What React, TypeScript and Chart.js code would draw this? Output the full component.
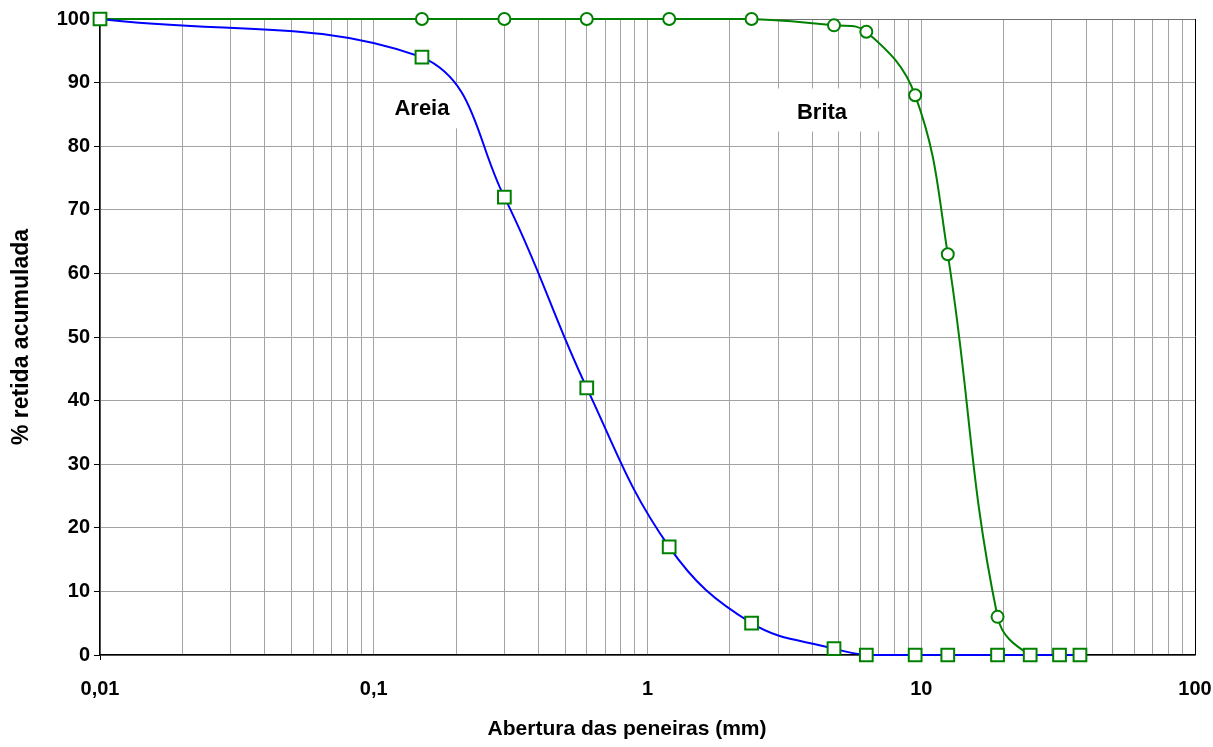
import React, { useEffect, useRef } from 'react';
import { Chart, registerables } from 'chart.js';

Chart.register(...registerables);

// ---- data ----
const AREIA_X = [0.01, 0.15, 0.3, 0.6, 1.2, 2.4, 4.8, 6.3, 9.5, 12.5, 19, 25, 32, 38];
const AREIA_Y = [100, 94, 72, 42, 17, 5, 1, 0, 0, 0, 0, 0, 0, 0];
const BRITA_X = [0.01, 0.15, 0.3, 0.6, 1.2, 2.4, 4.8, 6.3, 9.5, 12.5, 19, 25, 32];
const BRITA_Y = [100, 100, 100, 100, 100, 100, 99, 98, 88, 63, 6, 0, 0];

const X_DECADES = [0.01, 0.1, 1, 10, 100];
const X_TICK_LABELS = ['0,01', '0,1', '1', '10', '100'];
const X_MULTIPLIERS = [1, 2, 3, 4, 5, 6, 7, 8, 9];

const LABEL_TEXTS = ['Areia', 'Brita'];
const LABEL_X = [0.15, 4.34];
const LABEL_Y = [85.8, 85.3];

const X_TITLE = 'Abertura das peneiras (mm)';
const Y_TITLE = '% retida acumulada';

const FONT = "'Liberation Sans', Arial, Helvetica, sans-serif";

const xTickValues: number[] = [];
for (let d = 0; d < X_DECADES.length - 1; d++) {
  for (const m of X_MULTIPLIERS) {
    xTickValues.push(Number((m * X_DECADES[d]).toPrecision(3)));
  }
}
xTickValues.push(X_DECADES[X_DECADES.length - 1]);

const decadeIndex = (v: number) =>
  X_DECADES.findIndex((d) => Math.abs(Math.log10(d) - Math.log10(v)) < 1e-6);

// label box paddings (style)
const BOX_PAD = [
  { l: 8, r: 10, t: 24, b: 19 },
  { l: 25, r: 39, t: 24, b: 19 },
];

const labelPlugin = {
  id: 'textLabels',
  beforeDatasetsDraw(chart: any) {
    const ctx = chart.ctx;
    const xs = chart.scales.x;
    const ys = chart.scales.y;
    ctx.save();
    ctx.font = `bold 22px ${FONT}`;
    ctx.textAlign = 'center';
    ctx.textBaseline = 'middle';
    LABEL_TEXTS.forEach((t, i) => {
      const cx = xs.getPixelForValue(LABEL_X[i]);
      const cy = ys.getPixelForValue(LABEL_Y[i]);
      const w = ctx.measureText(t).width;
      const p = BOX_PAD[i];
      ctx.fillStyle = '#ffffff';
      ctx.fillRect(cx - w / 2 - p.l, cy - p.t, w + p.l + p.r, p.t + p.b);
      ctx.fillStyle = '#000000';
      ctx.fillText(t, cx, cy);
    });
    ctx.restore();
  },
};

export default function App() {
  const ref = useRef<HTMLCanvasElement | null>(null);

  useEffect(() => {
    if (!ref.current) return;
    const chart = new Chart(ref.current, {
      type: 'line',
      data: {
        datasets: [
          {
            label: 'Areia',
            data: AREIA_X.map((x, i) => ({ x, y: AREIA_Y[i] })),
            borderColor: '#0000ff',
            borderWidth: 2,
            pointStyle: 'rect',
            pointRadius: 9,
            pointBorderWidth: 2,
            pointBorderColor: '#008000',
            pointBackgroundColor: '#ffffff',
            tension: 0.4,
            fill: false,
            clip: false,
          },
          {
            label: 'Brita',
            data: BRITA_X.map((x, i) => ({ x, y: BRITA_Y[i] })),
            borderColor: '#008000',
            borderWidth: 2,
            pointStyle: 'circle',
            pointRadius: 6,
            pointBorderWidth: 2,
            pointBorderColor: '#008000',
            pointBackgroundColor: '#ffffff',
            tension: 0.4,
            fill: false,
            clip: false,
          },
        ],
      },
      options: {
        animation: false,
        responsive: true,
        maintainAspectRatio: false,
        layout: { padding: { top: 19, right: 18, left: 0, bottom: 0 } },
        plugins: {
          legend: { display: false },
          tooltip: { enabled: false },
        },
        scales: {
          x: {
            type: 'logarithmic',
            min: 0.01,
            max: 100,
            afterBuildTicks: (scale: any) => {
              scale.ticks = xTickValues.map((v) => ({ value: v }));
            },
            afterFit: (scale: any) => {
              scale.height = 92;
              scale.paddingLeft = 0;
              scale.paddingRight = 0;
            },
            ticks: {
              autoSkip: false,
              maxRotation: 0,
              minRotation: 0,
              padding: 17,
              color: '#000',
              font: { family: FONT, size: 20, weight: 'bold' },
              callback: (value: any) => {
                const i = decadeIndex(Number(value));
                return i >= 0 ? X_TICK_LABELS[i] : '';
              },
            },
            grid: {
              color: (ctx: any) =>
                ctx.tick && Math.abs(ctx.tick.value - 100) < 1e-6 ? '#000000' : '#a3a3a3',
              lineWidth: 1,
              tickLength: 5,
              tickColor: (ctx: any) =>
                ctx.tick && decadeIndex(ctx.tick.value) === 0 ? '#000000' : 'rgba(0,0,0,0)',
            },
            border: { color: '#000000', width: 1.5 },
            title: {
              display: true,
              text: X_TITLE + '       ',
              color: '#000',
              font: { family: FONT, size: 21, weight: 'bold' },
              padding: { top: 0, bottom: 5 },
            },
          },
          y: {
            type: 'linear',
            min: 0,
            max: 100,
            afterFit: (scale: any) => {
              scale.width = 100;
            },
            ticks: {
              stepSize: 10,
              padding: 4,
              color: '#000',
              font: { family: FONT, size: 20, weight: 'bold' },
            },
            grid: {
              color: (ctx: any) =>
                ctx.tick && ctx.tick.value === 100 ? '#707070' : '#a3a3a3',
              lineWidth: 1,
              tickLength: 6,
              tickColor: '#000000',
            },
            border: { color: '#000000', width: 1.5 },
            title: {
              display: true,
              text: Y_TITLE,
              color: '#000',
              font: { family: FONT, size: 23, weight: 'bold' },
              padding: { top: 8, bottom: 0 },
            },
          },
        },
      } as any,
      plugins: [labelPlugin],
    });
    return () => chart.destroy();
  }, []);

  return (
    <div
      style={{
        position: 'fixed',
        left: 0,
        top: 0,
        width: 1213,
        height: 747,
        background: '#ffffff',
      }}
    >
      <canvas ref={ref} />
    </div>
  );
}
